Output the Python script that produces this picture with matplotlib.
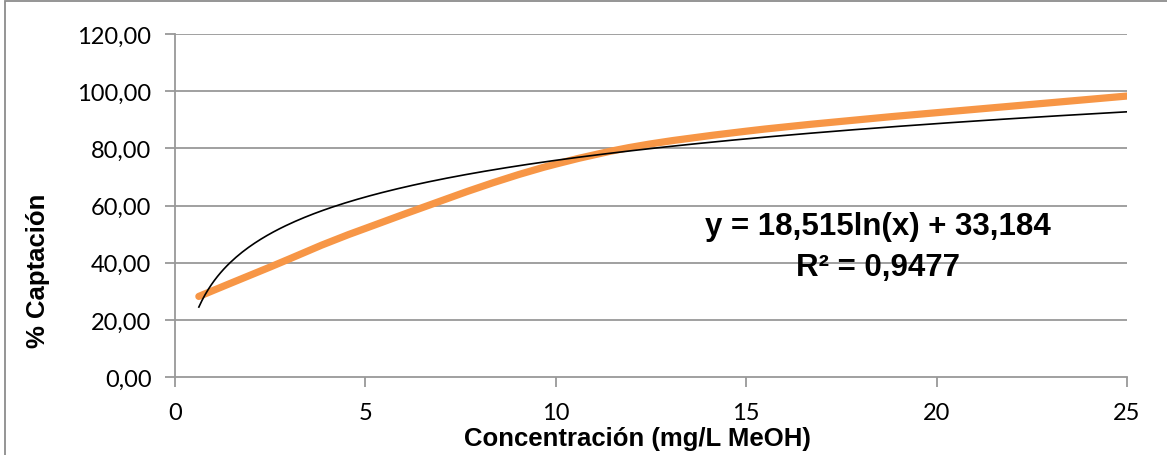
import numpy as np
import matplotlib.pyplot as plt
from matplotlib.path import Path
from matplotlib.patches import PathPatch, Rectangle

# concentration (mg/L MeOH) and % uptake
conc = [0.625, 2.5, 5, 10, 15, 25]
captacion = [28.2, 38.5, 52.0, 74.5, 86.0, 98.3]

# log trendline coefficients
a_coef = 18.515
b_coef = 33.184
r2 = 0.9477

y_ticks = [0, 20, 40, 60, 80, 100, 120]
x_ticks = [0, 5, 10, 15, 20, 25]

def smooth_path(xs, ys):
    # bezier through the points, like a spreadsheet "smoothed line"
    p = np.column_stack([xs, ys]).astype(float)
    verts = [p[0]]
    codes = [Path.MOVETO]
    n = len(p)
    for i in range(n - 1):
        p0 = p[i - 1] if i > 0 else p[i]
        p3 = p[i + 2] if i + 2 < n else p[i + 1]
        c1 = p[i] + (p[i + 1] - p0) / 6
        c2 = p[i + 1] - (p3 - p[i]) / 6
        verts += [c1, c2, p[i + 1]]
        codes += [Path.CURVE4] * 3
    return Path(verts, codes)

fig = plt.figure(figsize=(11.67, 4.56), dpi=100)
ax = fig.add_axes([0.15, 0.171, 0.8157, 0.7522])

for yt in y_ticks[1:]:
    ax.axhline(yt, color='#999999', lw=1.3, zorder=1)

ax.add_patch(PathPatch(smooth_path(conc, captacion), fill=False,
                       edgecolor='#F79646', lw=5.2, capstyle='round', zorder=3))

xt = np.linspace(min(conc), max(conc), 300)
ax.plot(xt, a_coef * np.log(xt) + b_coef, color='black', lw=1.2, zorder=4)

ax.set_xlim(0, 25)
ax.set_ylim(0, 120)
ax.set_xticks(x_ticks)
ax.set_yticks(y_ticks)
ax.set_yticklabels([f"{v:.2f}".replace('.', ',') for v in y_ticks])
ax.set_xticklabels([str(v) for v in x_ticks])

for s in ['top', 'right']:
    ax.spines[s].set_visible(False)
for s in ['left', 'bottom']:
    ax.spines[s].set_color('#999999')
    ax.spines[s].set_linewidth(1.3)
ax.tick_params(direction='out', length=7, width=1.3, color='#999999',
               labelsize=17)
ax.tick_params(axis='x', pad=11)
ax.tick_params(axis='y', pad=10)
for lab in ax.get_xticklabels() + ax.get_yticklabels():
    lab.set_fontfamily('Lato')

ax.set_xlabel('Concentración (mg/L MeOH)', fontsize=18.5, fontweight='bold',
              family='Liberation Sans')
ax.xaxis.set_label_coords(0.486, -0.143)
ax.set_ylabel('% Captación', fontsize=18.5, fontweight='bold',
              family='Liberation Sans')
ax.yaxis.set_label_coords(-0.131, 0.312)

eq = f"y = {a_coef:.3f}ln(x) + {b_coef:.3f}".replace('.', ',')
r2txt = f"R² = {r2:.4f}".replace('.', ',')
ax.text(18.46, 52.8, eq, ha='center', va='center', fontsize=22.5,
        fontweight='bold', family='Liberation Sans', zorder=5)
ax.text(18.46, 38.5, r2txt, ha='center', va='center', fontsize=22.5,
        fontweight='bold', family='Liberation Sans', zorder=5)

fig.patches.append(Rectangle((0.0043, -0.05), 1.1, 1.0456, transform=fig.transFigure,
                             fill=False, edgecolor='#8c8c8c', lw=1.3))

fig.savefig('out.png', dpi=100)
